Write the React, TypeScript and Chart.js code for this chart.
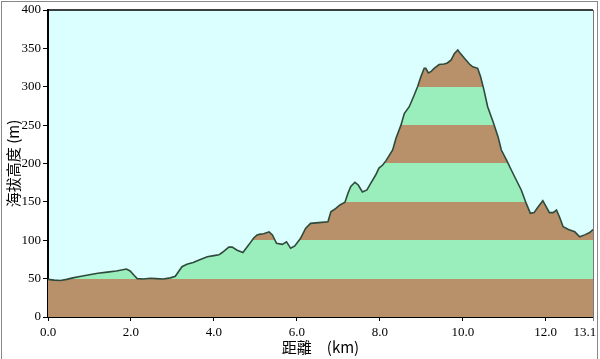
import React, { useEffect, useRef } from "react";
import { Chart, registerables } from "chart.js";

Chart.register(...registerables);

// Distance along the route (km)
const distanceKm = [
  0.0, 0.15, 0.3, 0.45, 0.6, 0.8, 1.0, 1.2, 1.43, 1.65, 1.89, 1.98, 2.08, 2.15, 2.3, 2.47, 2.6, 2.78, 2.95, 3.07,
  3.12, 3.23, 3.35, 3.5, 3.63, 3.84, 4.0, 4.12, 4.2, 4.36, 4.44, 4.56, 4.7, 4.84, 4.96, 5.04, 5.12, 5.2, 5.33, 5.41,
  5.51, 5.65, 5.75, 5.85, 5.95, 6.09, 6.21, 6.33, 6.53, 6.75, 6.82, 6.94, 7.04, 7.16, 7.23, 7.3, 7.4, 7.48, 7.58, 7.69,
  7.78, 7.9, 7.98, 8.07, 8.15, 8.31, 8.39, 8.51, 8.59, 8.71, 8.82, 8.91, 8.99, 9.07, 9.11, 9.17, 9.23, 9.31, 9.43, 9.55,
  9.63, 9.72, 9.8, 9.88, 9.94, 10.04, 10.16, 10.24, 10.36, 10.43, 10.51, 10.6, 10.73, 10.85, 10.93, 11.05, 11.17, 11.29, 11.41, 11.53,
  11.63, 11.72, 11.81, 11.93, 12.01, 12.09, 12.18, 12.26, 12.33, 12.42, 12.55, 12.7, 12.82, 12.94, 13.06, 13.14,
];

// Elevation (m)
const elevationM = [
  49, 48, 47.5, 49, 51, 53, 55, 57, 58.5, 60, 62.5, 60, 54, 50, 49.5, 50.5, 50, 49.5, 51, 53,
  57, 65.5, 68.6, 71, 74, 78.6, 80, 81, 84, 91, 91, 87, 84, 94, 103, 107, 108, 108.5, 111, 107,
  96, 94.7, 98, 89.5, 92.5, 102.5, 115.5, 122, 123, 124, 137, 141.5, 146, 149.5, 161, 170, 175.5, 172, 163, 165.5,
  174, 185, 194, 198, 203.7, 217.6, 233, 250, 265, 274, 288, 300, 313, 324, 324, 318, 319.6, 324, 329, 329.6,
  331, 335, 343.5, 348, 343.5, 337, 329.6, 326, 324, 313, 296, 274, 254.5, 235, 217.6, 205, 191.5, 178.5, 165.5, 148,
  135, 136, 143, 151.5, 143.7, 136, 136, 139.4, 130.7, 117.7, 114, 111, 104.6, 107, 110, 114,
];

const xTickValues = [0, 2, 4, 6, 8, 10, 12, 13.14];
const yMin = 0;
const yMax = 400;
const yStep = 50;
const bandEdges = [0, 50, 100, 150, 200, 250, 300, 350, 400];
const bandColors = ["#B8916A", "#9AEEBC", "#B8916A", "#9AEEBC", "#B8916A", "#9AEEBC", "#B8916A", "#9AEEBC"];
const xTitle = "距離　(km)";
const yTitle = "海拔高度 (m)";

const SKY = "#DBFEFE";
const LINE = "#2F4A3C";

export default function App() {
  const ref = useRef<HTMLCanvasElement>(null);

  useEffect(() => {
    document.body.style.margin = "0";
    const canvas = ref.current;
    if (!canvas) return;

    const framePlugin = {
      id: "frame",
      beforeDraw(chart: any) {
        const { ctx, chartArea } = chart;
        if (!chartArea) return;
        ctx.save();
        ctx.fillStyle = SKY;
        ctx.fillRect(chartArea.left, chartArea.top, chartArea.right - chartArea.left, chartArea.bottom - chartArea.top);
        ctx.restore();
      },
      afterDraw(chart: any) {
        const { ctx, chartArea } = chart;
        ctx.save();
        ctx.lineWidth = 1.5;
        ctx.strokeStyle = "#000";
        ctx.beginPath();
        ctx.moveTo(chartArea.left, chartArea.top);
        ctx.lineTo(chartArea.right, chartArea.top);
        ctx.stroke();
        ctx.strokeStyle = "#777";
        ctx.lineWidth = 1;
        ctx.beginPath();
        ctx.moveTo(chartArea.right + 0.5, chartArea.top);
        ctx.lineTo(chartArea.right + 0.5, chartArea.bottom + 4);
        ctx.stroke();
        // outer frame
        ctx.strokeStyle = "#888";
        ctx.lineWidth = 1;
        ctx.strokeRect(1.5, 1.5, 596, 362);
        ctx.restore();
      },
    };

    const lastIdx = xTickValues.length - 1;

    const chart = new Chart(canvas, {
      type: "line",
      data: {
        datasets: [
          {
            data: distanceKm.map((d, i) => ({ x: d, y: elevationM[i] })),
            borderColor: LINE,
            borderWidth: 1.6,
            pointRadius: 0,
            tension: 0,
            fill: "origin",
            backgroundColor: (c: any) => {
              const ch = c.chart;
              if (!ch.chartArea) return bandColors[0];
              const ys = ch.scales.y;
              const p0 = ys.getPixelForValue(yMin);
              const p1 = ys.getPixelForValue(yMax);
              const g = ch.ctx.createLinearGradient(0, p0, 0, p1);
              for (let i = 0; i < bandColors.length; i++) {
                const t0 = (bandEdges[i] - yMin) / (yMax - yMin);
                const t1 = (bandEdges[i + 1] - yMin) / (yMax - yMin);
                g.addColorStop(Math.max(0, Math.min(1, t0)), bandColors[i]);
                g.addColorStop(Math.max(0, Math.min(1, t1)), bandColors[i]);
              }
              return g;
            },
          },
        ],
      },
      options: {
        responsive: false,
        devicePixelRatio: 1,
        animation: false,
        layout: { padding: { left: 0, top: 10, right: 7, bottom: 0 } },
        plugins: { legend: { display: false }, tooltip: { enabled: false } },
        scales: {
          x: {
            type: "linear",
            min: 0,
            max: 13.14,
            afterBuildTicks: (scale: any) => {
              scale.ticks = xTickValues.map((v) => ({ value: v }));
            },
            afterFit: (scale: any) => {
              scale.height = 42;
              scale.paddingLeft = 0;
              scale.paddingRight = 0;
            },
            ticks: {
              autoSkip: false,
              maxRotation: 0,
              color: "#000",
              padding: 4,
              font: { family: "'Liberation Serif'", size: 13 },
              callback: (v: any, i: number) =>
                i === lastIdx ? Number(v).toFixed(1) + "\u2002\u2002 " : Number(v).toFixed(1),
            },
            grid: { drawOnChartArea: false, drawTicks: true, tickLength: 4, color: "#000" },
            border: { color: "#000", width: 2 },
            title: {
              display: true,
              text: xTitle,
              color: "#000",
              padding: { top: 0, bottom: 3 },
              font: { family: "'Noto Sans CJK TC'", size: 15 },
            },
          },
          y: {
            type: "linear",
            min: yMin,
            max: yMax,
            afterFit: (scale: any) => {
              scale.width = 48;
            },
            ticks: {
              stepSize: yStep,
              color: "#000",
              padding: 2,
              font: { family: "'Liberation Serif'", size: 13 },
            },
            grid: { drawOnChartArea: false, drawTicks: true, tickLength: 5, color: "#000" },
            border: { color: "#000", width: 2 },
            title: {
              display: true,
              text: yTitle,
              color: "#000",
              padding: { top: 4, bottom: 0 },
              font: { family: "'Noto Sans CJK TC'", size: 15 },
            },
          },
        },
      },
      plugins: [framePlugin],
    } as any);

    return () => chart.destroy();
  }, []);

  return (
    <div style={{ width: 600, height: 359 }}>
      <canvas ref={ref} width={600} height={359} style={{ display: "block" }} />
    </div>
  );
}
